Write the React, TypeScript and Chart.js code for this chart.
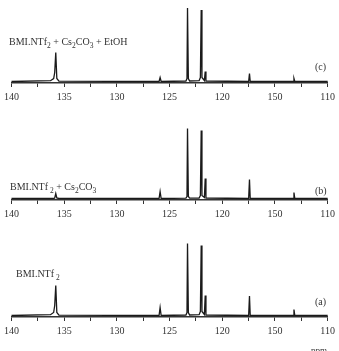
import React, { useEffect, useRef } from "react";
import { Chart, registerables } from "chart.js";

Chart.register(...registerables);

// Chemical shift positions (ppm) shared by all three spectra
const ppm = [140, 136.3, 136.0, 135.9, 135.8, 135.7, 135.5, 126.0, 125.9, 125.8, 123.45, 123.35, 123.3, 123.22, 123.1, 122.2, 122.08, 122.0, 121.93, 121.7, 121.62, 121.55, 117.5, 117.42, 117.35, 113.28, 113.2, 113.12, 110];

// Intensities (arbitrary units)
const intensityC = [0, 0.8, 3, 9, 29, 3, 0.3, 0, 4, 0, 0.5, 3, 73.5, 3, 0.5, 0.8, 4, 71.5, 4, 1, 10, 0.5, 0, 8, 0, 0, 3, 0, 0];
const intensityB = [0, 0, 0, 0.5, 5, 0.5, 0, 0, 7, 0, 0.3, 2, 70, 2, 0.3, 0.5, 3, 68, 3, 1, 20, 0.5, 0, 19, 0, 0, 6, 0, 0];
const intensityA = [0, 0.8, 3, 10, 30, 3, 0.3, 0, 8, 0, 0.5, 3, 72, 3, 0.5, 0.8, 4, 70, 4, 1, 20, 0.5, 0, 19.5, 0, 0, 6, 0, 0];

// Axis tick labels (as printed in the original figure)
const tickValues = [140, 135, 130, 125, 120, 115, 110];
const tickLabels = ["140", "135", "130", "125", "120", "150", "110"];

// Panel labels: [text, isSubscript] segments
const labelC: [string, boolean][] = [["BMI.NTf", false], ["2", true], [" + Cs", false], ["2", true], ["CO", false], ["3", true], [" + EtOH", false]];
const labelB: [string, boolean][] = [["BMI.NTf", false], [" 2", true], [" + Cs", false], ["2", true], ["CO", false], ["3", true]];
const labelA: [string, boolean][] = [["BMI.NTf", false], [" 2", true]];

const FONT = "'Liberation Serif', 'DejaVu Serif', serif";
const TEXT = "#333";

type TextItem = { parts: [string, boolean][]; x: number; y: number; size: number; baseline?: CanvasTextBaseline };

function drawParts(ctx: CanvasRenderingContext2D, item: TextItem) {
  let x = item.x;
  ctx.fillStyle = TEXT;
  ctx.textBaseline = item.baseline || "alphabetic";
  ctx.textAlign = "left";
  for (const [t, sub] of item.parts) {
    const size = sub ? item.size * 0.75 : item.size;
    ctx.font = `${size}px ${FONT}`;
    ctx.fillText(t, x, item.y + (sub ? 3 : 0));
    x += ctx.measureText(t).width;
  }
}

type PanelProps = {
  top: number;
  height: number;
  padTop: number;
  padBottom: number;
  values: number[];
  texts: TextItem[];
};

function Panel({ top, height, padTop, padBottom, values, texts }: PanelProps) {
  const ref = useRef<HTMLCanvasElement | null>(null);
  useEffect(() => {
    if (!ref.current) return;
    const textPlugin = {
      id: "panelText",
      afterDraw(chart: any) {
        const ctx = chart.ctx as CanvasRenderingContext2D;
        ctx.save();
        texts.forEach((t) => drawParts(ctx, t));
        ctx.restore();
      },
    };
    const chart = new Chart(ref.current, {
      type: "scatter",
      data: {
        datasets: [
          {
            data: ppm.map((p, i) => ({ x: p, y: values[i] })),
            showLine: true,
            borderColor: "#1a1a1a",
            borderWidth: 1.3,
            pointRadius: 0,
            tension: 0,
            clip: false as any,
          },
        ],
      },
      options: {
        responsive: false,
        animation: false,
        devicePixelRatio: 1,
        layout: { padding: { left: 8, right: 8, top: padTop, bottom: padBottom } },
        plugins: { legend: { display: false }, tooltip: { enabled: false } },
        scales: {
          x: {
            type: "linear",
            min: 110,
            max: 140,
            reverse: true,
            border: { display: true, color: "#333", width: 1.5 },
            grid: { display: true, drawOnChartArea: false, drawTicks: true, tickLength: 4, color: "#333", lineWidth: 1 },
            ticks: {
              stepSize: 2.5,
              autoSkip: false,
              maxRotation: 0,
              padding: 4,
              color: TEXT,
              font: { family: FONT, size: 10 },
              callback: (v: any) => {
                const idx = tickValues.findIndex((t) => Math.abs(t - Number(v)) < 1e-6);
                return idx >= 0 ? tickLabels[idx] : "";
              },
            },
          },
          y: { display: false, min: -1.5, max: 77.5 },
        },
      },
      plugins: [textPlugin],
    });
    return () => chart.destroy();
  }, []);
  return (
    <canvas
      ref={ref}
      width={339}
      height={height}
      style={{ position: "absolute", left: 0, top, width: 339, height }}
    />
  );
}

export default function App() {
  return (
    <div style={{ position: "absolute", left: 0, top: 0, width: 339, height: 351, background: "#fff", overflow: "hidden" }}>
      <Panel
        top={0}
        height={107}
        padTop={4}
        padBottom={0}
        values={intensityC}
        texts={[
          { parts: labelC, x: 9, y: 45, size: 10 },
          { parts: [["(c)", false]], x: 315, y: 70, size: 10 },
        ]}
      />
      <Panel
        top={107}
        height={117}
        padTop={14}
        padBottom={0}
        values={intensityB}
        texts={[
          { parts: labelB, x: 10, y: 83, size: 10 },
          { parts: [["(b)", false]], x: 315, y: 87, size: 10 },
        ]}
      />
      <Panel
        top={224}
        height={127}
        padTop={14}
        padBottom={10}
        values={intensityA}
        texts={[
          { parts: labelA, x: 16, y: 53, size: 10 },
          { parts: [["(a)", false]], x: 315, y: 81, size: 10 },
          { parts: [["ppm", false]], x: 311, y: 122, size: 9, baseline: "top" },
        ]}
      />
    </div>
  );
}
